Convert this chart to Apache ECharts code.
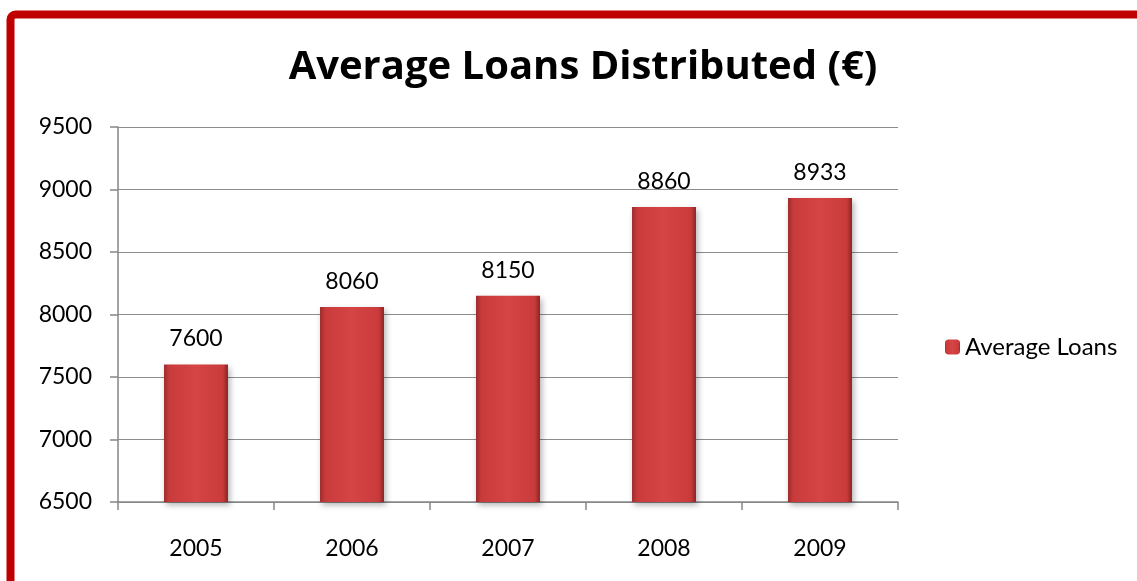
<!DOCTYPE html>
<html><head><meta charset="utf-8">
<script src="https://cdn.jsdelivr.net/npm/echarts@6/dist/echarts.min.js"></script>
<style>html,body{margin:0;padding:0;background:#fff}#c{width:1137px;height:581px}</style>
</head><body><div id="c"></div>
<script>
const title = 'Average Loans Distributed (€)';
const seriesName = 'Average Loans';
const categories = ['2005', '2006', '2007', '2008', '2009'];
const values = [7600, 8060, 8150, 8860, 8933];
const yTicks = [6500, 7000, 7500, 8000, 8500, 9000, 9500];

const font = 'Lato, "Open Sans", "Noto Sans", sans-serif';
const chart = echarts.init(document.getElementById('c'), null, {renderer: 'canvas'});
chart.setOption({
  animation: false,
  textStyle: {fontFamily: font},
  graphic: [{
    type: 'rect', silent: true, z: 100,
    shape: {x: 10.5, y: 14.5, width: 1300, height: 800, r: 5},
    style: {fill: 'none', stroke: '#C00000', lineWidth: 8}
  }],
  title: {
    text: title, left: 578, top: 43, textAlign: 'center',
    textStyle: {fontSize: 40, fontWeight: 'bold', color: '#000', fontFamily: '"Open Sans", Lato, sans-serif'}
  },
  legend: {
    data: [seriesName], left: 940, top: 330, itemWidth: 15, itemHeight: 15, itemGap: 8,
    textStyle: {fontSize: 24, color: '#000', fontFamily: font}
  },
  grid: {left: 118, top: 127, width: 780, height: 375, containLabel: false},
  xAxis: {
    type: 'category', data: categories,
    axisLine: {lineStyle: {color: '#868686', width: 1.5}},
    axisTick: {show: true, length: 8, lineStyle: {color: '#868686', width: 1.5}},
    axisLabel: {fontSize: 23, color: '#000', margin: 35, fontFamily: font}
  },
  yAxis: {
    type: 'value', min: yTicks[0], max: yTicks[yTicks.length - 1], interval: 500,
    axisLine: {show: true, lineStyle: {color: '#868686', width: 1.5}},
    axisTick: {show: true, length: 8, lineStyle: {color: '#868686', width: 1.5}},
    splitLine: {lineStyle: {color: '#8c8c8c', width: 1.2}},
    axisLabel: {fontSize: 23, color: '#000', margin: 26, fontFamily: font, formatter: v => String(v)}
  },
  series: [{
    name: seriesName, type: 'bar', data: values, barWidth: '41%',
    itemStyle: {
      color: new echarts.graphic.LinearGradient(0, 0, 1, 0, [
        {offset: 0, color: '#9c2b2b'},
        {offset: 0.08, color: '#c93b3b'},
        {offset: 0.5, color: '#d64444'},
        {offset: 0.92, color: '#c93b3b'},
        {offset: 1, color: '#8a2323'}
      ]),
      shadowColor: 'rgba(0,0,0,0.3)', shadowBlur: 6, shadowOffsetX: 2, shadowOffsetY: 3
    },
    label: {
      show: true, position: 'top', distance: 14, fontSize: 23, color: '#000', fontFamily: font
    }
  }]
});
</script></body></html>
